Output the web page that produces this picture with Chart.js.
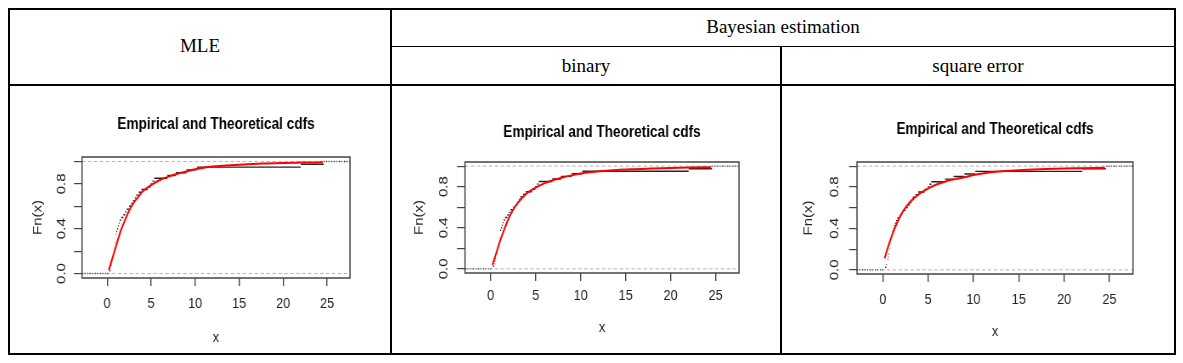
<!DOCTYPE html>
<html>
<head>
<meta charset="utf-8">
<title>Empirical and Theoretical cdfs</title>
<script src="https://cdn.jsdelivr.net/npm/chart.js"></script>
<style>
  body { margin: 0; background: #fff; width: 1183px; height: 363px; position: relative; overflow: hidden; }
  /* table rules */
  .ln { position: absolute; background: #000; }
  .hd { position: absolute; font-family: "Liberation Serif", "Times New Roman", serif; font-size: 19px; color: #000; text-align: center; line-height: 20px; }
  /* the R pictures are squeezed sideways in the document */
  canvas { position: absolute; transform-origin: 0 0; }
</style>
</head>
<body>
  <div class="ln" style="left:8px;top:8px;width:1168px;height:2px"></div>
  <div class="ln" style="left:8px;top:353px;width:1168px;height:2px"></div>
  <div class="ln" style="left:8px;top:8px;width:2px;height:347px"></div>
  <div class="ln" style="left:1174px;top:8px;width:2px;height:347px"></div>
  <div class="ln" style="left:390px;top:8px;width:2px;height:347px"></div>
  <div class="ln" style="left:780px;top:46px;width:2px;height:309px"></div>
  <div class="ln" style="left:390px;top:46px;width:786px;height:1px"></div>
  <div class="ln" style="left:8px;top:84px;width:1168px;height:2px"></div>

  <div class="hd" style="left:10px;width:380px;top:36px">MLE</div>
  <div class="hd" style="left:392px;width:782px;top:17px">Bayesian estimation</div>
  <div class="hd" style="left:392px;width:388px;top:56px">binary</div>
  <div class="hd" style="left:782px;width:392px;top:56px">square error</div>

  <canvas id="c0"></canvas>
  <canvas id="c1"></canvas>
  <canvas id="c2"></canvas>

<script>
// observed sample (sorted), shared by the three panels
const sampleX = [0.25, 0.38, 0.45, 0.52, 0.58, 0.65, 0.72, 0.78, 0.83, 0.87,
                 0.91, 0.95, 0.98, 1.0, 1.05, 1.15, 1.25, 1.35, 1.45, 1.6,
                 1.85, 2.05, 2.2, 2.5, 2.75, 2.95, 3.15, 3.3, 3.6, 3.9,
                 4.6, 4.95, 5.15, 5.35, 6.85, 7.8, 9.0, 10.2, 22.0, 24.6];

// fitted (theoretical) cdf
const curveX = [0.2, 0.5, 1, 1.5, 2, 2.5, 3, 3.5, 4, 5, 6, 7, 8, 9, 10, 11, 12.5, 14, 16, 18, 20, 22, 24.5];
const mleF   = [0.03, 0.11, 0.24, 0.37, 0.47, 0.56, 0.63, 0.68, 0.73, 0.79, 0.835, 0.865, 0.89, 0.91, 0.93, 0.945, 0.958, 0.967, 0.976, 0.982, 0.987, 0.99, 0.993];
const binF   = [0.04, 0.12, 0.26, 0.38, 0.49, 0.575, 0.64, 0.69, 0.735, 0.79, 0.835, 0.865, 0.89, 0.91, 0.927, 0.94, 0.953, 0.962, 0.97, 0.977, 0.982, 0.986, 0.99];
const sqF    = [0.11, 0.2, 0.33, 0.44, 0.53, 0.6, 0.655, 0.695, 0.73, 0.785, 0.825, 0.855, 0.875, 0.893, 0.915, 0.93, 0.945, 0.955, 0.965, 0.972, 0.977, 0.98, 0.984];

const xTicks = [0, 5, 10, 15, 20, 25];
const yTicks = [0, 0.2, 0.4, 0.6, 0.8, 1.0];
const yLabels = ['0.0', '', '0.4', '', '0.8', ''];
const xMin = -2.85, xMax = 27.6, yMin = -0.04, yMax = 1.04;

const FONT = "'Liberation Sans', Arial, sans-serif";
const TITLE_SIZE = 16, LAB_SIZE = 15, TICK_LEN = 8;
const SQ = 0.85; // horizontal squeeze of the plots

// placement of each R plot inside its table cell (page pixels)
const panels = [
  { id: 'c0', curve: mleF, left: 10,  top: 87, w: 380, h: 266, box: { l: 82,  t: 157, r: 350,  b: 278 }, titleY: 125, tickY: 304, xTitleY: 338, yTickX: 62,  yTitleX: 38 },
  { id: 'c1', curve: binF, left: 393, top: 87, w: 387, h: 266, box: { l: 465, t: 162, r: 739,  b: 273 }, titleY: 133, tickY: 296, xTitleY: 328, yTickX: 444, yTitleX: 419 },
  { id: 'c2', curve: sqF,  left: 783, top: 87, w: 391, h: 266, box: { l: 857, t: 162, r: 1133, b: 274 }, titleY: 130, tickY: 300, xTitleY: 332, yTickX: 835, yTitleX: 808 }
];

// box around the plot region + rotated y tick labels (R style)
const rFrame = {
  id: 'rFrame',
  afterDraw(chart, args, opts) {
    const { ctx, chartArea: a, scales: { y } } = chart;
    ctx.save();
    ctx.strokeStyle = '#444';
    ctx.lineWidth = 1.5;
    ctx.strokeRect(a.left, a.top, a.right - a.left, a.bottom - a.top);
    ctx.fillStyle = '#222';
    ctx.font = LAB_SIZE + 'px ' + FONT;
    ctx.textAlign = 'center';
    ctx.textBaseline = 'middle';
    yTicks.forEach((v, i) => {
      if (!yLabels[i]) return;
      ctx.save();
      ctx.translate(opts.labelX, y.getPixelForValue(v));
      ctx.rotate(-Math.PI / 2);
      ctx.fillText(yLabels[i], 0, 0);
      ctx.restore();
    });
    ctx.restore();
  }
};

function makeChart(p) {
  const cv = document.getElementById(p.id);
  const cw = Math.round(p.w / SQ);
  cv.width = cw; cv.height = p.h;
  cv.style.left = p.left + 'px';
  cv.style.top = p.top + 'px';
  cv.style.transform = 'scaleX(' + SQ + ')';
  const sx = v => (v - p.left) / SQ; // page x -> canvas x

  const n = sampleX.length;
  // horizontal pieces of the ecdf, broken by gaps
  const steps = [];
  for (let i = 0; i < n - 1; i++) {
    steps.push({ x: sampleX[i], y: (i + 1) / n }, { x: sampleX[i + 1], y: (i + 1) / n }, { x: sampleX[i + 1], y: null });
  }
  const tails = [{ x: xMin, y: 0 }, { x: sampleX[0], y: 0 }, { x: sampleX[0], y: null },
                 { x: sampleX[n - 1], y: 1 }, { x: xMax, y: 1 }];
  const refs = [{ x: xMin, y: 0 }, { x: xMax, y: 0 }, { x: xMax, y: null }, { x: xMin, y: 1 }, { x: xMax, y: 1 }];
  const fitted = curveX.map((x, i) => ({ x: x, y: p.curve[i] }));

  const titleLH = TITLE_SIZE * 1.2, labLH = LAB_SIZE * 1.2;
  const titleTop = (p.titleY - p.top) - titleLH / 2;
  const titleBottom = (p.box.t - p.top) - titleTop - titleLH;

  new Chart(cv, {
    type: 'line',
    data: {
      datasets: [
        { data: fitted, borderColor: '#ff0000', borderWidth: 2, pointRadius: 0, cubicInterpolationMode: 'monotone', order: 0 },
        { data: steps, borderColor: '#222', borderWidth: 1.4, pointRadius: 0, spanGaps: false, order: 1 },
        { data: tails, borderColor: '#222', borderWidth: 1.3, borderDash: [1, 2], pointRadius: 0, spanGaps: false, order: 2 },
        { data: refs, borderColor: '#b3b3b3', borderWidth: 1, borderDash: [4, 3], pointRadius: 0, spanGaps: false, order: 3 }
      ]
    },
    options: {
      responsive: false,
      animation: false,
      devicePixelRatio: 1,
      layout: { padding: { left: 0, top: 0, bottom: 0, right: cw - sx(p.box.r) } },
      plugins: {
        legend: { display: false },
        tooltip: { enabled: false },
        title: {
          display: true,
          fullSize: false,
          text: 'Empirical and Theoretical cdfs',
          color: '#000',
          font: { family: FONT, size: TITLE_SIZE, weight: 'bold' },
          padding: { top: titleTop, bottom: titleBottom }
        },
        rFrame: { labelX: sx(p.yTickX) }
      },
      scales: {
        x: {
          type: 'linear',
          min: xMin, max: xMax,
          afterBuildTicks: s => { s.ticks = xTicks.map(v => ({ value: v })); },
          afterFit: s => { s.height = (p.top + p.h) - p.box.b; },
          grid: { drawOnChartArea: false, drawTicks: true, tickLength: TICK_LEN, color: '#444', lineWidth: 1.4 },
          border: { display: false },
          ticks: { color: '#222', font: { family: FONT, size: LAB_SIZE }, maxRotation: 0, autoSkip: false,
                   padding: (p.tickY - p.box.b) - TICK_LEN - labLH / 2 },
          title: { display: true, text: 'x', color: '#222', font: { family: FONT, size: LAB_SIZE },
                   padding: { top: 0, bottom: ((p.top + p.h) - p.xTitleY) - labLH / 2 } }
        },
        y: {
          type: 'linear',
          min: yMin, max: yMax,
          afterBuildTicks: s => { s.ticks = yTicks.map(v => ({ value: v })); },
          afterFit: s => { s.width = sx(p.box.l); },
          grid: { drawOnChartArea: false, drawTicks: true, tickLength: TICK_LEN / SQ, color: '#444', lineWidth: 1.2 },
          border: { display: false },
          ticks: { display: false },
          title: { display: true, text: 'Fn(x)', color: '#222', font: { family: FONT, size: LAB_SIZE },
                   padding: { top: sx(p.yTitleX) - labLH / 2, bottom: 0 } }
        }
      }
    },
    plugins: [rFrame]
  });
}

panels.forEach(makeChart);
</script>
</body>
</html>
